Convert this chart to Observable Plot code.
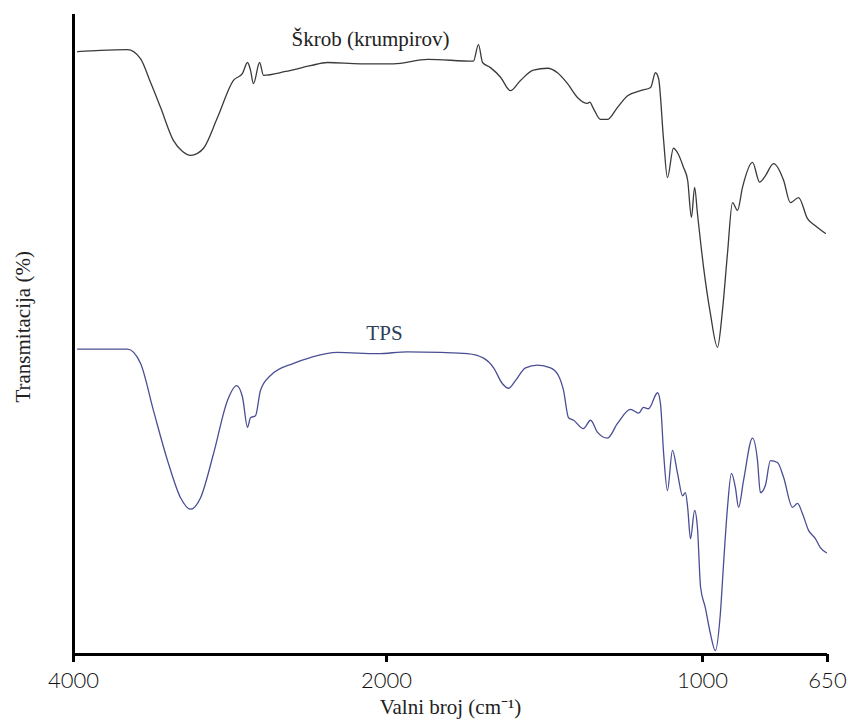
<!DOCTYPE html>
<html>
<head>
<meta charset="utf-8">
<script src="https://cdn.jsdelivr.net/npm/d3@7"></script>
<script src="https://cdn.jsdelivr.net/npm/@observablehq/plot@0.6"></script>
<style>
  html, body { margin: 0; padding: 0; background: #fff; }
</style>
</head>
<body>
<div id="chart"></div>
<script>
// Wavenumber (cm-1) and relative transmittance (arbitrary %, offset per spectrum)
const skrobWn = [3974, 3827, 3655, 3572, 3508, 3444, 3361, 3303, 3252, 3208, 3169, 3080, 2978, 2920, 2888, 2869, 2850, 2811, 2786, 2645, 2486, 2377, 2166, 1978, 1870, 1725, 1709, 1696, 1671, 1639, 1608, 1576, 1535, 1490, 1459, 1427, 1395, 1364, 1357, 1345, 1323, 1301, 1269, 1237, 1196, 1164, 1149, 1139, 1123, 1111, 1092, 1079, 1060, 1047, 1035, 1025, 1016, 997, 978, 958, 944, 930, 916, 902, 888, 860, 840, 824, 801, 773, 754, 731, 706, 684, 656];
const skrobT = [94.2, 94.4, 94.5, 93.1, 89.4, 85.5, 80.3, 78.6, 78.0, 78.3, 79.1, 83.9, 89.7, 90.8, 92.5, 91.3, 89.2, 92.5, 90.5, 91.1, 92.0, 92.5, 92.3, 92.3, 93.0, 92.7, 95.3, 92.5, 91.7, 90.2, 88.1, 89.7, 91.3, 91.6, 90.9, 89.2, 87.0, 86.1, 86.3, 85.3, 83.6, 83.6, 85.5, 87.3, 88.1, 88.6, 90.9, 90.0, 80.3, 74.5, 79.1, 78.4, 76.1, 74.1, 68.3, 73.0, 68.9, 60.5, 53.3, 48.0, 53.8, 62.7, 70.6, 69.4, 73.0, 76.9, 73.8, 74.8, 76.7, 74.1, 70.6, 71.4, 68.1, 67.0, 65.8];

const tpsWn = [3974, 3827, 3655, 3572, 3489, 3399, 3316, 3252, 3188, 3105, 3016, 2958, 2920, 2888, 2869, 2837, 2805, 2741, 2594, 2486, 2313, 2057, 1934, 1829, 1744, 1693, 1661, 1633, 1614, 1592, 1560, 1522, 1481, 1456, 1440, 1424, 1408, 1377, 1354, 1332, 1301, 1269, 1228, 1202, 1187, 1171, 1142, 1133, 1123, 1111, 1095, 1079, 1063, 1054, 1047, 1038, 1025, 1016, 1006, 992, 978, 964, 950, 941, 930, 919, 908, 899, 885, 860, 846, 838, 824, 810, 790, 773, 748, 734, 720, 703, 684, 670, 653];
const tpsT = [47.7, 47.7, 47.7, 45.5, 38.1, 30.3, 24.5, 22.7, 24.5, 31.4, 39.7, 42.0, 40.2, 35.5, 37.0, 37.3, 41.3, 43.6, 45.5, 46.4, 47.2, 47.0, 47.3, 47.2, 47.0, 46.3, 44.8, 42.3, 41.6, 42.8, 44.8, 45.2, 44.8, 43.6, 41.3, 37.0, 36.6, 35.3, 36.6, 34.7, 33.8, 36.1, 38.3, 37.7, 38.6, 38.4, 40.9, 39.2, 31.4, 25.6, 31.9, 28.3, 24.8, 25.3, 23.0, 18.1, 22.5, 19.8, 10.5, 7.3, 3.3, 0.6, 6.4, 14.2, 23.0, 28.3, 26.1, 23.0, 27.2, 33.8, 30.3, 25.3, 26.4, 30.3, 30.0, 27.7, 23.0, 23.6, 22.0, 19.4, 18.1, 16.7, 15.9];

const xTicks = [4000, 2000, 1000, 650];
const seriesNames = ["Škrob (krumpirov)", "TPS"];
const xTitle = "Valni broj (cm⁻¹)";
const yTitle = "Transmitacija (%)";

const skrob = skrobWn.map((w, i) => ({wn: w, t: skrobT[i]}));
const tps = tpsWn.map((w, i) => ({wn: w, t: tpsT[i]}));

const serif = "'Liberation Serif', 'Times New Roman', serif";

const chart = Plot.plot({
  width: 848,
  height: 724,
  marginLeft: 73,
  marginRight: 21,
  marginTop: 14,
  marginBottom: 70,
  style: {fontFamily: "Lato, sans-serif", fontSize: "22px", background: "#fff", color: "#000"},
  x: {type: "linear", domain: xTicks, range: [73, 386, 702, 827], axis: null},
  y: {domain: [0, 100], range: [654, 14], axis: null},
  marks: [
    Plot.line(skrob, {x: "wn", y: "t", stroke: "#3a3a3a", strokeWidth: 1.3, curve: "monotone-x"}),
    Plot.line(tps, {x: "wn", y: "t", stroke: "#4a4e94", strokeWidth: 1.3, curve: "monotone-x"}),
    Plot.ruleX([4000], {y1: 0, y2: 100, stroke: "#000", strokeWidth: 3}),
    Plot.ruleY([0], {stroke: "#000", strokeWidth: 3}),
    Plot.axisX(xTicks, {anchor: "bottom", tickSize: 8, tickPadding: 10, strokeWidth: 3, stroke: "#000", fill: "#111", tickFormat: d => String(d), label: null, fontFamily: "Lato, sans-serif", fontSize: 22, fontWeight: 300}),
    Plot.text([seriesNames[0]], {x: 2102, y: 96.2, fontFamily: serif, fontSize: 21, fill: "#222"}),
    Plot.text([seriesNames[1]], {x: 2013, y: 50.2, fontFamily: serif, fontSize: 21, fill: "#2e3e5c"}),
    Plot.text([xTitle], {frameAnchor: "bottom", dy: 59, fontFamily: serif, fontSize: 21, fill: "#222"}),
    Plot.text([yTitle], {x: 4000, y: 51.2, rotate: -90, dx: -50, fontFamily: serif, fontSize: 21, fill: "#222"})
  ]
});
document.getElementById("chart").appendChild(chart);
</script>
</body>
</html>
